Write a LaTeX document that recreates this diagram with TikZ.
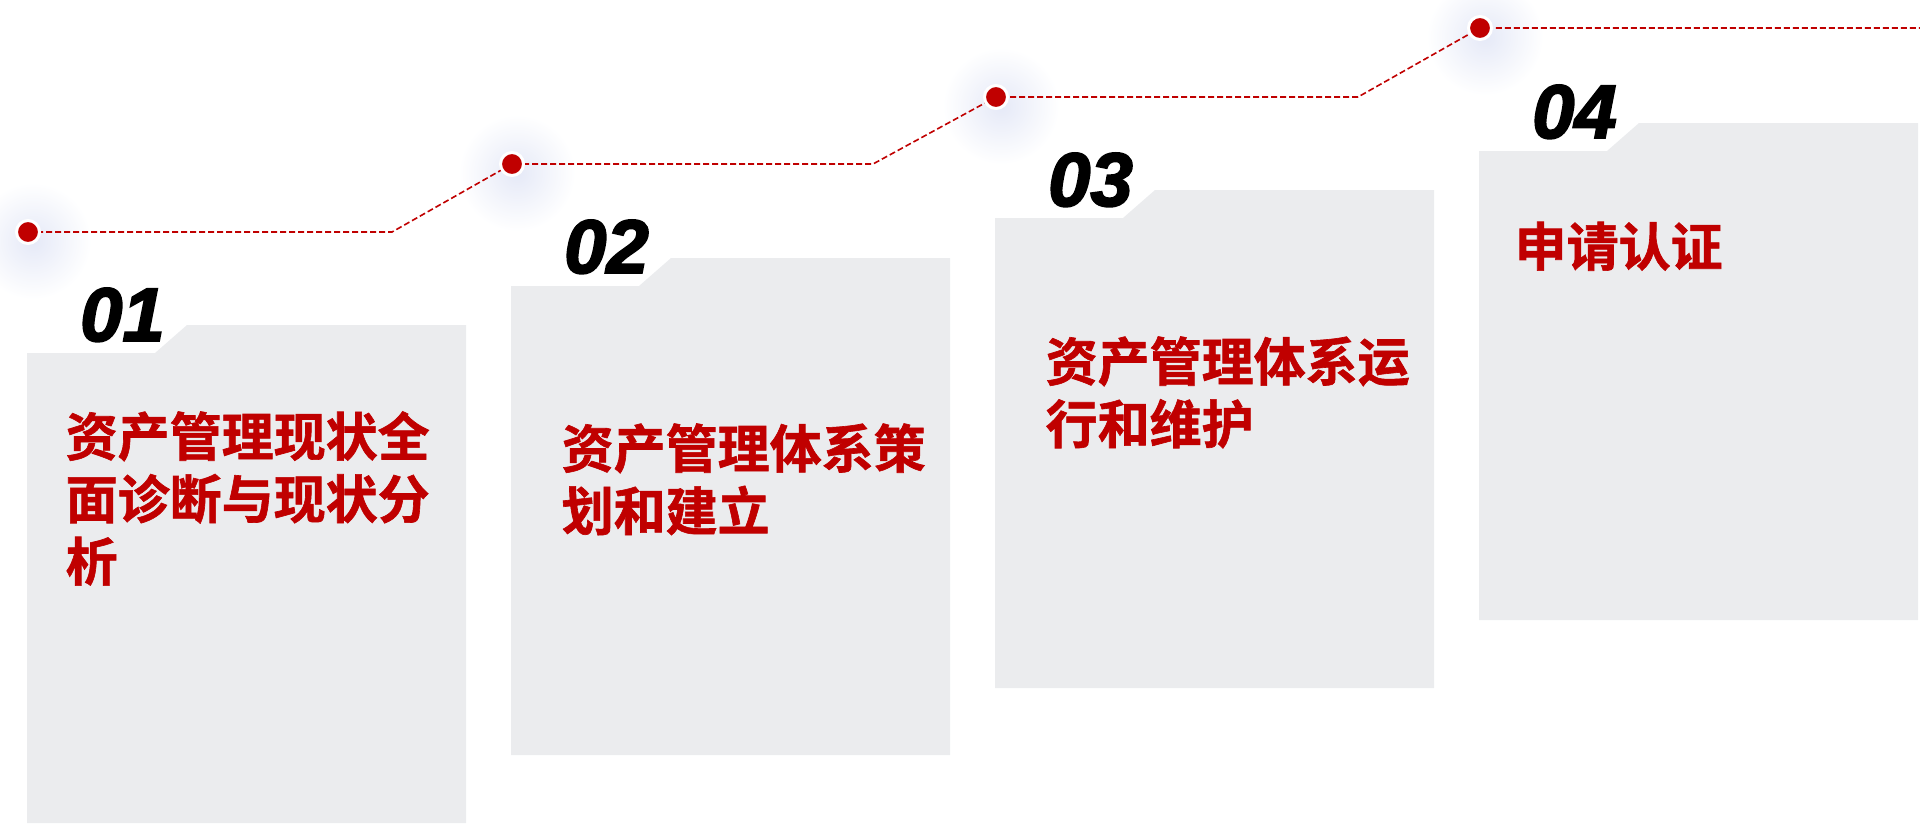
\documentclass[tikz,border=0pt]{standalone}
\usepackage{fontspec}
\usetikzlibrary{fadings}
\newfontfamily\cjk{Noto Sans CJK SC}[BoldFont={Noto Sans CJK SC Bold}, BoldFeatures={FakeBold=1.2}]
\newfontfamily\numfont{Liberation Sans}[BoldItalicFeatures={FakeBold=2.5}]
\definecolor{boxgray}{RGB}{235,236,238}
\definecolor{darkred}{RGB}{192,0,0}
\definecolor{glowblue}{RGB}{190,200,235}
\tikzfading[name=glowfade, inner color=transparent!0, outer color=transparent!100]
\tikzset{
  x=1pt, y=-1pt,
  panel/.style={fill=boxgray, draw=none},
  link/.style={draw=darkred, line width=1.6pt, dash pattern=on 6pt off 3pt},
  dot/.style={circle, fill=darkred, draw=white, line width=3pt, minimum size=23pt, inner sep=0pt},
  glow/.style={fill=glowblue, path fading=glowfade, fill opacity=0.4},
  stepnum/.style={anchor=base west, inner sep=0pt, font=\numfont\bfseries\itshape\fontsize{76}{76}\selectfont, text=black},
  steptext/.style={anchor=base west, inner sep=0pt, font=\cjk\bfseries\fontsize{52}{62}\selectfont, text=darkred},
}
\begin{document}
\begin{tikzpicture}
\useasboundingbox (0,0) rectangle (1920,823);
% glows
\foreach \gx/\gy in {28/232, 512/164, 996/97, 1480/28}{
  \fill[glow] (\gx+5,\gy+9) circle (58);
}
% panels
\fill[panel] (27,823) -- (27,353) -- (155,353) -- (187,325) -- (466,325) -- (466,823) -- cycle;
\fill[panel] (511,755) -- (511,286) -- (639,286) -- (671,258) -- (950,258) -- (950,755) -- cycle;
\fill[panel] (995,688) -- (995,218) -- (1123,218) -- (1155,190) -- (1434,190) -- (1434,688) -- cycle;
\fill[panel] (1479,620) -- (1479,151) -- (1607,151) -- (1639,123) -- (1918,123) -- (1918,620) -- cycle;
% connector path
\coordinate (d1) at (28,232);
\coordinate (d2) at (512,164);
\coordinate (d3) at (996,97);
\coordinate (d4) at (1480,28);
\coordinate (c1) at (392,232);
\coordinate (c2) at (873,164);
\coordinate (c3) at (1358,97);
\coordinate (cend) at (1920,28);
\draw[link] (d1) -- (c1) -- (d2) -- (c2) -- (d3) -- (c3) -- (d4) -- (cend);
% dots
\node[dot] (p1) at (d1) {};
\node[dot] (p2) at (d2) {};
\node[dot] (p3) at (d3) {};
\node[dot] (p4) at (d4) {};
% numbers
\node[stepnum] (n1) at (80,341) {01};
\node[stepnum] (n2) at (564,273) {02};
\node[stepnum] (n3) at (1048,206) {03};
\node[stepnum] (n4) at (1532,138) {04};
% texts
\node[steptext] (t1a) at (65.5,456) {资产管理现状全};
\node[steptext] (t1b) at (65.5,518.5) {面诊断与现状分};
\node[steptext] (t1c) at (65.5,581) {析};
\node[steptext] (t2a) at (561.5,468) {资产管理体系策};
\node[steptext] (t2b) at (561.5,530.5) {划和建立};
\node[steptext] (t3a) at (1045.5,381) {资产管理体系运};
\node[steptext] (t3b) at (1045.5,443.5) {行和维护};
\node[steptext] (t4a) at (1514.5,266) {申请认证};
\end{tikzpicture}
\end{document}
